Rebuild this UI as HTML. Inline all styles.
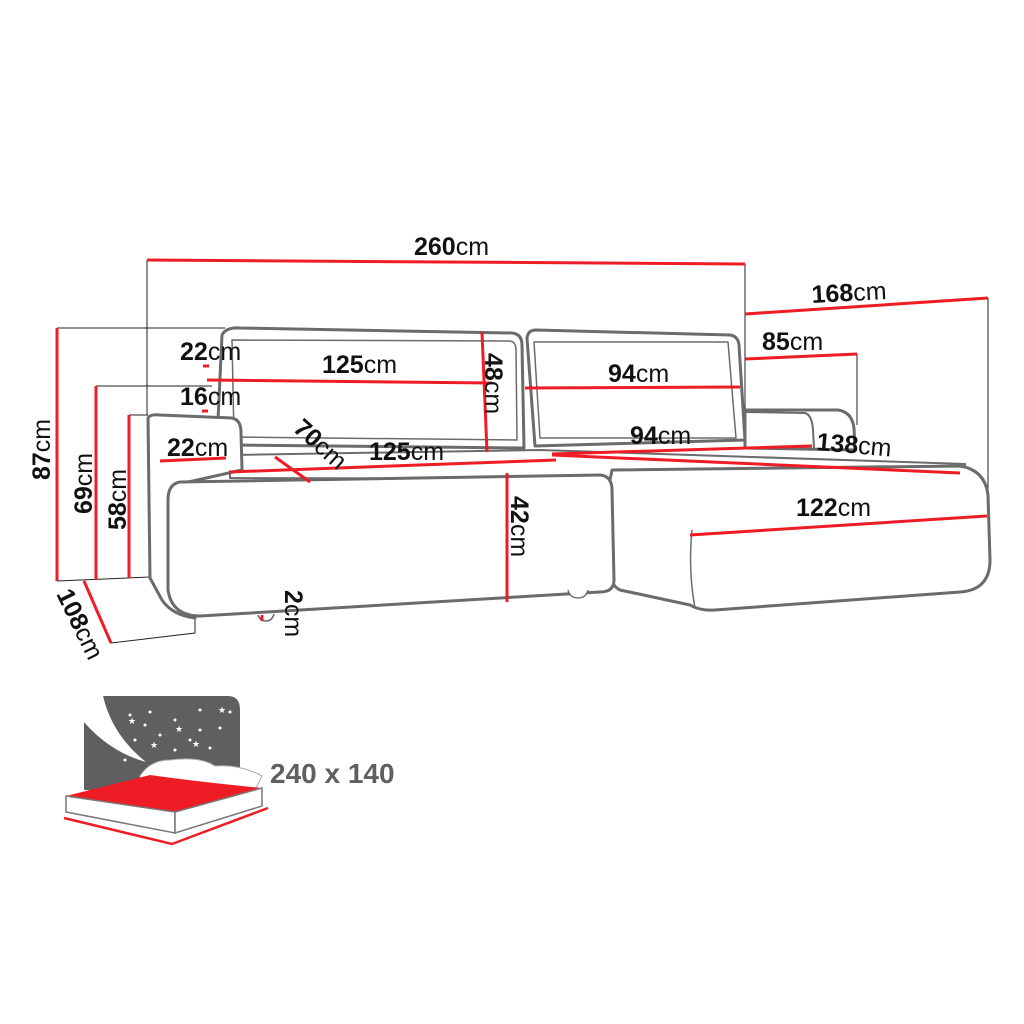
<!DOCTYPE html>
<html><head><meta charset="utf-8"><style>
html,body{margin:0;padding:0;background:#fff}
svg{display:block}
text{font-family:"Liberation Sans",sans-serif;fill:#111}
.b{font-weight:bold}
</style></head><body>
<svg width="1024" height="1024" viewBox="0 0 1024 1024" xmlns="http://www.w3.org/2000/svg">
<g stroke="#222" stroke-width="1" fill="none">
<line x1="147" y1="260" x2="147" y2="415"/>
<line x1="745" y1="264" x2="745" y2="440"/>
<line x1="988" y1="298" x2="988" y2="510"/>
<line x1="857" y1="354" x2="857" y2="425"/>
<line x1="57" y1="328" x2="225" y2="328"/>
<line x1="96" y1="386" x2="212" y2="386"/>
<line x1="129" y1="415" x2="148" y2="415"/>
<line x1="57" y1="581" x2="150" y2="577"/>
<polyline points="84,581 111,643 195,633 195,617"/>
</g>
<g stroke="#6b6b6b" stroke-width="3" fill="#fff" stroke-linejoin="round">
<path d="M222,335 Q226,327 240,328 L512,333 Q522,334 522,345 L524,448 L230,445 L218,420 Z"/>
<path d="M232,340 L510,341 Q516,342 516,350 L517,440 L234,437 Z" stroke-width="1.5"/>
<path d="M527,338 Q528,330 536,330 L730,335 Q738,336 739,345 L745,440 L535,446 Z"/>
<path d="M534,342 L728,342 L736,438 L540,438 Z" stroke-width="1.5"/>
<path d="M745,410 L838,410 Q852,412 854,428 L855,450 L745,448 Z"/>
<path d="M745,412 L805,413 Q812,415 813,430 L814,448" fill="none" stroke-width="2"/>
<path d="M230,455 L540,450 L965,464 L965,480 L230,478 Z" stroke-width="2"/>
<path d="M148,418 Q150,414 160,415 L232,418 Q241,420 241,432 L242,470 L175,485 L172,600 L195,618 Q172,615 162,600 L150,578 Z"/>
<path d="M612,470 L960,466 Q985,470 988,495 L990,560 Q990,590 960,592 L715,610 Q700,611 690,605 L620,590 Q610,585 610,570 L610,480 Z"/>
<path d="M692,530 Q688,570 695,608" fill="none" stroke-width="1.5"/>
<path d="M180,482 L600,475 Q612,476 612,490 L614,580 Q614,592 600,592 L200,616 Q172,616 168,590 L168,500 Q168,484 180,482 Z"/>
<path d="M568,590 Q570,598 578,598 Q586,598 588,590" stroke-width="1.5"/>
<path d="M258,615 Q260,621 266,621 Q272,621 274,614" stroke-width="1.5"/>
</g>
<g stroke="#ee1c25" stroke-width="3" fill="none">
<line x1="147" y1="260" x2="745" y2="264"/>
<line x1="745" y1="314" x2="988" y2="298"/>
<line x1="745" y1="359" x2="857" y2="354"/>
<line x1="207" y1="380" x2="492" y2="383"/>
<line x1="525" y1="388" x2="740" y2="387"/>
<line x1="482" y1="332" x2="487" y2="452"/>
<line x1="203" y1="366" x2="209" y2="366"/>
<line x1="202" y1="411" x2="208" y2="411"/>
<line x1="160" y1="461" x2="226" y2="458"/>
<line x1="229" y1="472" x2="556" y2="460"/>
<line x1="552" y1="454" x2="812" y2="446"/>
<line x1="552" y1="455" x2="960" y2="473"/>
<line x1="275" y1="457" x2="310" y2="482"/>
<line x1="507" y1="473" x2="507" y2="602"/>
<line x1="690" y1="535" x2="987" y2="516"/>
<line x1="57" y1="328" x2="57" y2="581"/>
<line x1="96" y1="386" x2="96" y2="580"/>
<line x1="129" y1="415" x2="129" y2="578"/>
<line x1="84" y1="581" x2="111" y2="643"/>
<line x1="262" y1="615" x2="262" y2="621"/>
</g>
<g font-size="25">
<text x="414" y="255"><tspan class="b">260</tspan>cm</text>
<text x="812" y="303" transform="rotate(-3 812 303)"><tspan class="b">168</tspan>cm</text>
<text x="762" y="350"><tspan class="b">85</tspan>cm</text>
<text x="180" y="360"><tspan class="b">22</tspan>cm</text>
<text x="322" y="373"><tspan class="b">125</tspan>cm</text>
<text x="485" y="353" transform="rotate(90 485 353)"><tspan class="b">48</tspan>cm</text>
<text x="608" y="382"><tspan class="b">94</tspan>cm</text>
<text x="180" y="405"><tspan class="b">16</tspan>cm</text>
<text x="167" y="456"><tspan class="b">22</tspan>cm</text>
<text x="292" y="430" transform="rotate(42 292 430)"><tspan class="b">70</tspan>cm</text>
<text x="369" y="460"><tspan class="b">125</tspan>cm</text>
<text x="630" y="444"><tspan class="b">94</tspan>cm</text>
<text x="816" y="450" transform="rotate(5 816 450)"><tspan class="b">138</tspan>cm</text>
<text x="796" y="516"><tspan class="b">122</tspan>cm</text>
<text x="50" y="480" transform="rotate(-90 50 480)"><tspan class="b">87</tspan>cm</text>
<text x="92" y="514" transform="rotate(-90 92 514)"><tspan class="b">69</tspan>cm</text>
<text x="126" y="530" transform="rotate(-90 126 530)"><tspan class="b">58</tspan>cm</text>
<text x="511" y="496" transform="rotate(90 511 496)"><tspan class="b">42</tspan>cm</text>
<text x="285" y="590" transform="rotate(90 285 590)"><tspan class="b">2</tspan>cm</text>
<text x="56" y="594" transform="rotate(64 56 594)"><tspan class="b">108</tspan>cm</text>
</g>
<path d="M103,696 L228,696 Q240,696 240,710 L240,790 L84,790 L84,722 Q110,752 146,762 Q112,735 103,696 Z" fill="#5f5f5f"/>
<g fill="#fff">
<circle cx="130" cy="715" r="1.5"/><circle cx="150" cy="712" r="1.5"/><circle cx="175" cy="720" r="1.5"/><circle cx="200" cy="710" r="1.5"/><circle cx="220" cy="728" r="1.5"/><circle cx="160" cy="735" r="1.5"/><circle cx="190" cy="740" r="1.5"/><circle cx="210" cy="748" r="1.5"/><circle cx="135" cy="740" r="1.5"/><circle cx="125" cy="760" r="1.5"/><circle cx="175" cy="750" r="1.5"/><circle cx="230" cy="712" r="1.5"/><circle cx="145" cy="725" r="1.5"/><circle cx="200" cy="730" r="1.5"/>
<text x="128" y="724" font-size="9" style="fill:#fff">★</text><text x="175" y="732" font-size="9" style="fill:#fff">★</text><text x="192" y="747" font-size="9" style="fill:#fff">★</text><text x="150" y="748" font-size="9" style="fill:#fff">★</text><text x="218" y="713" font-size="9" style="fill:#fff">★</text>
</g>
<path d="M140,776 Q150,760 170,760 Q200,756 215,766 Q240,764 262,776 L255,790 Q220,786 140,786 Z" fill="#fff" stroke="#aaa" stroke-width="1"/>
<path d="M66,796 L150,775 Q200,782 262,788 L175,812 Z" fill="#ee1c25"/>
<path d="M66,796 L175,812 L175,833 L66,812 Z" fill="#fff" stroke="#777" stroke-width="1.5"/>
<path d="M175,812 L262,788 L262,806 L175,833 Z" fill="#fff" stroke="#777" stroke-width="1.5"/>
<path d="M64,818 L172,844 L268,808" fill="none" stroke="#ee1c25" stroke-width="2.5"/>
<text x="270" y="783" font-size="28" class="b" style="fill:#5f5f5f">240 x 140</text>
</svg>
</body></html>
